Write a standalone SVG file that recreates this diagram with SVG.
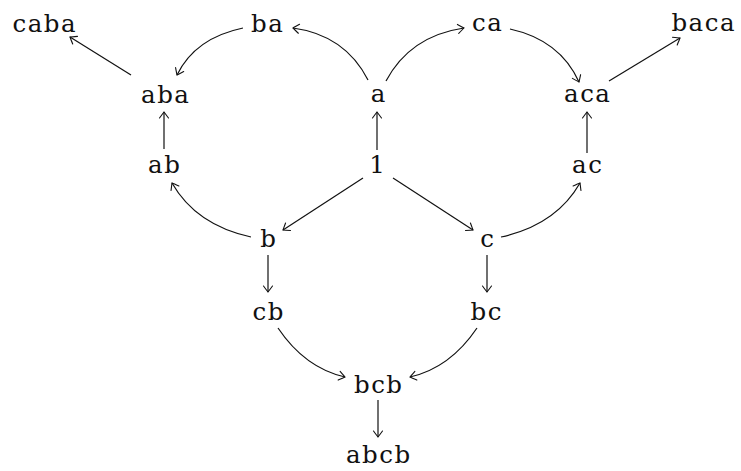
<svg xmlns="http://www.w3.org/2000/svg" width="741" height="471" viewBox="0 0 741 471">
<style>
text{font-family:"DejaVu Serif","Liberation Serif",serif;font-size:24.5px;fill:#111;text-anchor:middle;letter-spacing:1.5px;transform:translateX(0.75px)}
.e{fill:none;stroke:#111;stroke-width:1.2;marker-end:url(#ah)}
</style>
<defs>
<marker id="ah" markerUnits="userSpaceOnUse" viewBox="-10 -8 12 16" markerWidth="12" markerHeight="16" refX="0" refY="0" orient="auto" overflow="visible">
<path d="M -6 -4.5 Q -1.5 -1.2 0 0 Q -1.5 1.2 -6 4.5" fill="none" stroke="#111" stroke-width="1.1" stroke-linecap="round"/>
</marker>
</defs>
<rect width="741" height="471" fill="#fff"/>
<g id="connectors">
<path class="e" d="M 368 80 Q 345 35 293 28"/>
<path class="e" d="M 243 28 Q 195 38 177 75"/>
<path class="e" d="M 386 81 Q 410 36 464 28"/>
<path class="e" d="M 510 29 Q 560 40 579 82"/>
<path class="e" d="M 131 75 L 70 37"/>
<path class="e" d="M 609 81 L 680 38"/>
<path class="e" d="M 377 150 L 377 112"/>
<path class="e" d="M 164 149 L 164 112"/>
<path class="e" d="M 587 153 L 587 112"/>
<path class="e" d="M 363 178 L 283 230"/>
<path class="e" d="M 393 178 L 473 230"/>
<path class="e" d="M 251 237 Q 196 225 172 183"/>
<path class="e" d="M 501 237 Q 556 225 580 183"/>
<path class="e" d="M 268 255 L 268 292"/>
<path class="e" d="M 487 255 L 487 292"/>
<path class="e" d="M 278 328 Q 305 368 345 377"/>
<path class="e" d="M 477 328 Q 450 368 410 377"/>
<path class="e" d="M 378 400 L 378 437"/>
</g>
<g id="n-caba"><text x="44" y="32">caba</text></g>
<g id="n-ba"><text x="267" y="32">ba</text></g>
<g id="n-ca"><text x="487" y="31">ca</text></g>
<g id="n-baca"><text x="703" y="31">baca</text></g>
<g id="n-aba"><text x="165" y="103">aba</text></g>
<g id="n-a"><text x="378" y="102">a</text></g>
<g id="n-aca"><text x="587" y="102">aca</text></g>
<g id="n-ab"><text x="164" y="173">ab</text></g>
<g id="n-1"><text x="377" y="173">1</text></g>
<g id="n-ac"><text x="587" y="173">ac</text></g>
<g id="n-b"><text x="268" y="247">b</text></g>
<g id="n-c"><text x="487" y="247">c</text></g>
<g id="n-cb"><text x="268" y="320">cb</text></g>
<g id="n-bc"><text x="486" y="320">bc</text></g>
<g id="n-bcb"><text x="378" y="393">bcb</text></g>
<g id="n-abcb"><text x="378" y="463">abcb</text></g>
</svg>
